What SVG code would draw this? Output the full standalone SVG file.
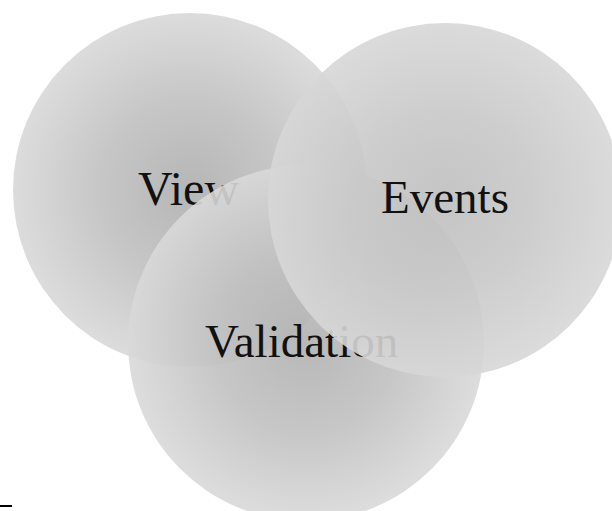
<svg xmlns="http://www.w3.org/2000/svg" width="612" height="511" viewBox="0 0 612 511">
<defs>
<radialGradient id="gView">
<stop offset="0" stop-color="#b6b6b6"/>
<stop offset="0.5" stop-color="#c6c6c6"/>
<stop offset="1" stop-color="#dcdcdc"/>
</radialGradient>
<radialGradient id="gVal">
<stop offset="0" stop-color="#b0b0b0"/>
<stop offset="0.5" stop-color="#c0c0c0"/>
<stop offset="1" stop-color="#d9d9d9"/>
</radialGradient>
<radialGradient id="gEv">
<stop offset="0" stop-color="#bebebe"/>
<stop offset="0.5" stop-color="#c8c8c8"/>
<stop offset="1" stop-color="#d7d7d7"/>
</radialGradient>
</defs>
<style>
.lbl{font-family:"Liberation Serif","Times New Roman",serif;font-size:47px;fill:#111}
.c{opacity:0.9}
</style>
<rect width="612" height="511" fill="#ffffff"/>
<g id="view">
<circle cx="190" cy="190" r="177" fill="url(#gView)"/>
<text class="lbl" x="138" y="205" style="font-size:48px">View</text>
</g>
<g id="validation">
<circle class="c" cx="306" cy="343" r="178" fill="url(#gVal)"/>
<text class="lbl" x="205" y="357">Validation</text>
</g>
<g id="events">
<circle class="c" cx="445" cy="200" r="177" fill="url(#gEv)"/>
<text class="lbl" x="381" y="213">Events</text>
</g>
<rect x="0" y="505" width="12" height="2" fill="#000"/>
</svg>
